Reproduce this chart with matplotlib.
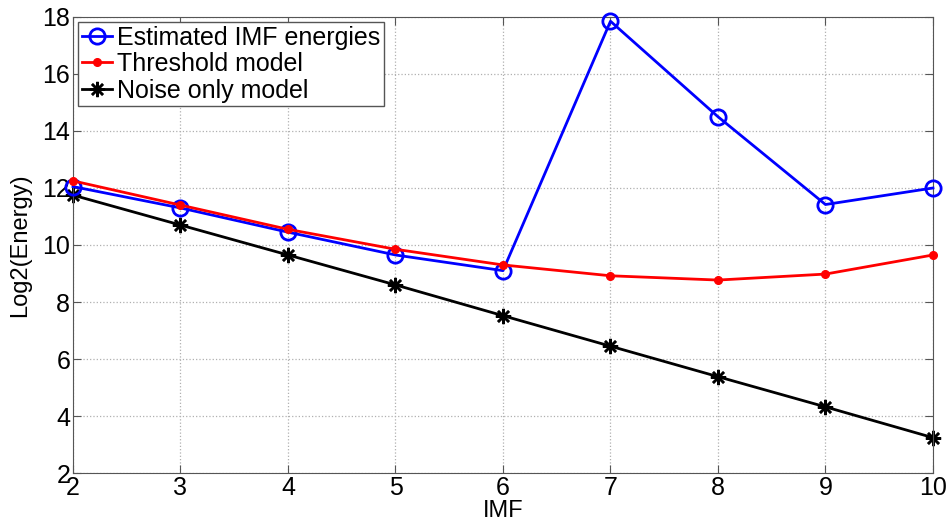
import matplotlib
matplotlib.use("Agg")
import matplotlib.pyplot as plt

plt.rcParams['font.family'] = ['Liberation Sans', 'DejaVu Sans']

imf = [2, 3, 4, 5, 6, 7, 8, 9, 10]
estimated = [12.05, 11.3, 10.45, 9.65, 9.1, 17.85, 14.5, 11.42, 12.0]
threshold = [12.25, 11.4, 10.55, 9.85, 9.3, 8.92, 8.77, 8.98, 9.65]
noise_only = [11.75, 10.7, 9.65, 8.6, 7.52, 6.45, 5.38, 4.32, 3.24]

fig = plt.figure(figsize=(9.53, 5.24), dpi=100)
ax = fig.add_axes([0.0766, 0.0973, 0.9024, 0.8703])

ax.plot(imf, estimated, color='#0000ff', lw=2, marker='o', ms=11,
        mfc='none', mew=2, label='Estimated IMF energies', clip_on=False, zorder=3)
ax.plot(imf, threshold, color='#ff0000', lw=2, marker='.', ms=11,
        label='Threshold model', clip_on=False, zorder=4)
ax.plot(imf, noise_only, color='black', lw=2, marker=(8, 2, 0), ms=11,
        mew=1.8, label='Noise only model', clip_on=False, zorder=2)

ax.set_xlim(2, 10)
ax.set_ylim(2, 18)
ax.set_xticks(imf)
ax.set_yticks(range(2, 19, 2))
ax.grid(True, ls=':', color='#b0b0b0', lw=0.9)
ax.tick_params(direction='in', labelsize=18, length=6, color='#555555',
               top=True, right=True, pad=2)
for s in ax.spines.values():
    s.set_color('#555555')
ax.set_xlabel('IMF', fontsize=17, labelpad=0)
ax.set_ylabel('Log2(Energy)', fontsize=17, labelpad=8)

leg = ax.legend(loc='upper left', fontsize=18, fancybox=False, framealpha=1,
                edgecolor='#555555', handlelength=1.2, handletextpad=0.2,
                borderpad=0.15, labelspacing=0.1, borderaxespad=0.2)
leg.get_frame().set_linewidth(1)

fig.savefig('out.png', dpi=100)
